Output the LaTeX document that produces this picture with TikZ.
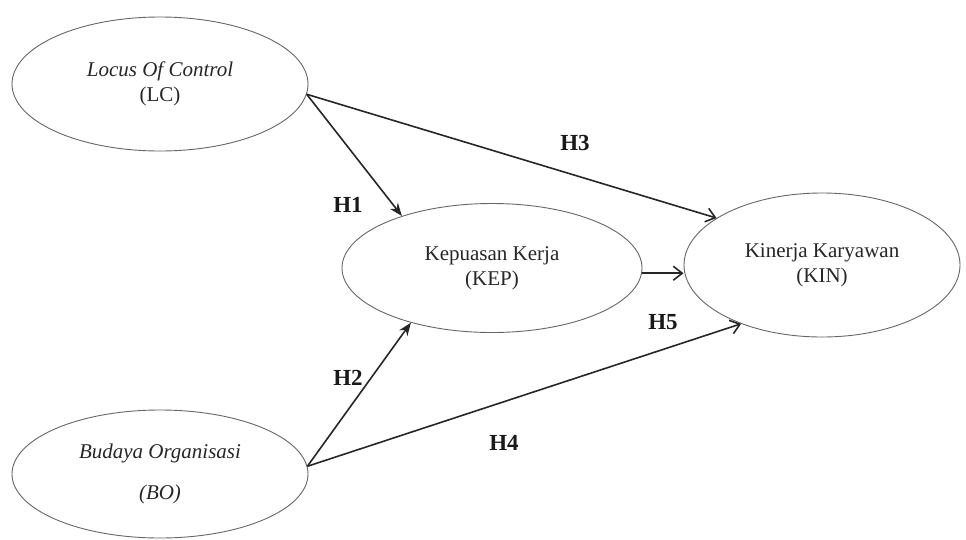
\documentclass[tikz,border=0pt]{standalone}
\usepackage{fontspec}
\setmainfont{Liberation Serif}
\usetikzlibrary{shapes.geometric,arrows.meta}
\tikzset{
  var/.style={draw=black!60, line width=0.9pt, ellipse, inner sep=0pt, align=center,
    font=\fontsize{21}{25}\selectfont, text=black!85},
  hyp/.style={font=\bfseries\fontsize{23}{26}\selectfont, text=black!90},
  link/.style={draw=black!85, line width=1.6pt},
  filledtip/.style={link, -{Stealth[length=13pt,width=10pt]}},
  opentip/.style={link, -{Straight Barb[length=9pt,width=14pt,line width=1.6pt]}}
}
\begin{document}
\begin{tikzpicture}[x=1pt,y=-1pt]
\useasboundingbox (0,0) rectangle (966,539);
\node[var, minimum width=296pt, minimum height=134pt] (lc) at (160,84)
  {\itshape Locus Of Control\\(LC)};
\node[var, minimum width=300pt, minimum height=129pt] (kep) at (492,268)
  {Kepuasan Kerja\\(KEP)};
\node[var, minimum width=276pt, minimum height=144pt] (kin) at (822,265)
  {Kinerja Karyawan\\(KIN)};
\node[var, minimum width=296pt, minimum height=128pt] (bo) at (160,474)
  {\itshape Budaya Organisasi\\[16pt]\itshape (BO)};
\draw[filledtip] (lc.-4) -- (kep.150);
\draw[opentip] (lc.-4) -- (kin.156);
\draw[opentip] (kep.-2) -- (kep.-2 -| kin.west);
\draw[filledtip] (bo.3) -- (kep.214);
\draw[opentip] (bo.3) -- (kin.216);
\node[hyp] (h1) at (348,205) {H1};
\node[hyp] (h2) at (348,378) {H2};
\node[hyp] (h3) at (575,143) {H3};
\node[hyp] (h4) at (504,443) {H4};
\node[hyp] (h5) at (663,322) {H5};
\end{tikzpicture}
\end{document}
